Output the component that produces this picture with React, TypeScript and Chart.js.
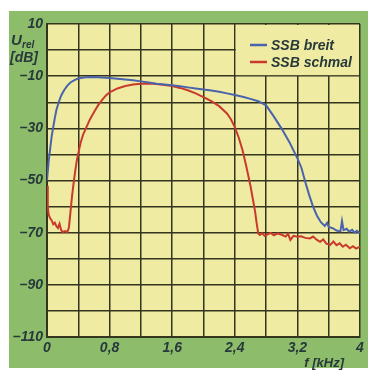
import React, { useEffect, useRef } from "react";
import { Chart, registerables } from "chart.js";
Chart.register(...registerables);

const seriesLabels = ["SSB breit", "SSB schmal"];
const seriesColors = ["#4a63ad", "#c93a2c"];

const breitFreq = [0, 0.02, 0.04, 0.06, 0.08, 0.1, 0.12, 0.15, 0.18, 0.22, 0.26, 0.3, 0.35, 0.4, 0.45, 0.5, 0.6, 0.7, 0.8, 0.9, 1.0, 1.1, 1.2, 1.3, 1.4, 1.5, 1.6, 1.7, 1.8, 1.9, 2.0, 2.1, 2.2, 2.3, 2.4, 2.5, 2.6, 2.7, 2.8, 2.9, 3.0, 3.1, 3.2, 3.25, 3.3, 3.35, 3.4, 3.45, 3.5, 3.55, 3.58, 3.6, 3.65, 3.7, 3.75, 3.77, 3.79, 3.83, 3.86, 3.9, 3.93, 3.96, 4.0];
const breitDb = [-50, -43, -38, -33, -29.5, -26, -23, -20, -17.5, -15.3, -13.6, -12.4, -11.5, -10.9, -10.6, -10.4, -10.3, -10.5, -10.7, -11, -11.3, -11.6, -12, -12.4, -12.9, -13.2, -13.5, -13.9, -14.3, -14.7, -15.1, -15.5, -16, -16.6, -17.2, -17.9, -18.7, -19.6, -21.2, -25.5, -30.2, -35.4, -41.5, -45, -50.5, -55.5, -60, -63.5, -66, -67.4, -66.2, -67.8, -68.3, -69.2, -69.5, -65.5, -69, -68.5, -69.6, -68.9, -70, -69.3, -70.2];

const schmalFreq = [0, 0.01, 0.02, 0.04, 0.06, 0.08, 0.1, 0.12, 0.14, 0.16, 0.18, 0.2, 0.23, 0.26, 0.28, 0.3, 0.32, 0.34, 0.36, 0.38, 0.4, 0.43, 0.46, 0.5, 0.55, 0.6, 0.65, 0.7, 0.75, 0.8, 0.9, 1.0, 1.1, 1.2, 1.3, 1.4, 1.5, 1.6, 1.7, 1.8, 1.9, 2.0, 2.1, 2.2, 2.3, 2.35, 2.4, 2.45, 2.5, 2.55, 2.6, 2.63, 2.66, 2.68, 2.7, 2.72, 2.75, 2.78, 2.82, 2.86, 2.9, 2.95, 3.0, 3.05, 3.08, 3.11, 3.15, 3.2, 3.25, 3.3, 3.36, 3.4, 3.45, 3.49, 3.53, 3.57, 3.62, 3.66, 3.7, 3.74, 3.78, 3.82, 3.87, 3.91, 3.95, 4.0];
const schmalDb = [-52, -60, -63, -64.5, -65.3, -66.8, -66.2, -67.5, -68.2, -66.6, -68.9, -69.8, -69.4, -69.8, -68, -62, -56, -51, -46.5, -42.5, -39.5, -35.5, -32.5, -29.8, -26.5, -23.8, -21.3, -19.3, -17.5, -16.2, -14.7, -13.8, -13.2, -12.9, -12.8, -13, -13.4, -13.8, -14.5, -15.4, -16.6, -18, -19.6, -21.5, -24.3, -26.5, -29.5, -33.5, -38.5, -45, -52, -57, -62, -66.5, -70.3, -70.9, -70.2, -71.2, -70.6, -70.1, -71, -70.3, -70.8, -71.5, -70.4, -72.8, -71.2, -71.6, -71.4, -72, -72.2, -71.5, -72.8, -73.5, -72.6, -74.2, -74.7, -73.4, -74.8, -74.1, -75.4, -74.6, -76, -75.2, -76.1, -75.4];

const yTickLabels = [10, -10, -30, -50, -70, -90, -110];
const xTickLabels = [0, 0.8, 1.6, 2.4, 3.2, 4];

const GREEN = "#8dbc6b";
const YELLOW = "#efeba2";
const GRID = "#35341e";
const TEXT = "#27393a";
const FAMILY = "'Liberation Sans', Arial, sans-serif";

const decorPlugin = {
  id: "decor",
  beforeDraw(chart: any) {
    const { ctx, chartArea } = chart;
    ctx.save();
    ctx.fillStyle = "#ffffff";
    ctx.fillRect(0, 0, chart.width, chart.height);
    ctx.fillStyle = GREEN;
    ctx.fillRect(9, 11, chart.width - 9, chart.height - 13);
    ctx.fillStyle = YELLOW;
    ctx.fillRect(chartArea.left, chartArea.top, chartArea.right - chartArea.left, chartArea.bottom - chartArea.top);
    ctx.restore();
  },
  beforeDatasetsDraw(chart: any) {
    const { ctx, chartArea, scales } = chart;
    const x0 = scales.x.getPixelForValue(2.4) + 1;
    const y1 = scales.y.getPixelForValue(-10) - 1;
    ctx.save();
    ctx.fillStyle = YELLOW;
    ctx.fillRect(x0, chartArea.top + 1, chartArea.right - 1 - x0, y1 - chartArea.top - 1);
    ctx.restore();
  },
  afterDatasetsDraw(chart: any) {
    const { ctx } = chart;
    ctx.save();
    const lx = 250;
    const rows = [45, 62];
    chart.data.datasets.forEach((ds: any, i: number) => {
      ctx.strokeStyle = ds.borderColor;
      ctx.lineWidth = 2.5;
      ctx.beginPath();
      ctx.moveTo(lx, rows[i]);
      ctx.lineTo(lx + 17, rows[i]);
      ctx.stroke();
      ctx.fillStyle = TEXT;
      ctx.font = `italic bold 14px ${FAMILY}`;
      ctx.textAlign = "left";
      ctx.textBaseline = "middle";
      ctx.fillText(ds.label, lx + 21, rows[i] + 1);
    });
    ctx.fillStyle = TEXT;
    ctx.textBaseline = "alphabetic";
    ctx.textAlign = "left";
    ctx.font = `italic bold 15px ${FAMILY}`;
    ctx.fillText("U", 11, 45);
    ctx.font = `italic bold 10px ${FAMILY}`;
    ctx.fillText("rel", 22, 48);
    ctx.font = `italic bold 14px ${FAMILY}`;
    ctx.fillText("[dB]", 10, 62);
    ctx.textAlign = "right";
    ctx.font = `italic bold 13px ${FAMILY}`;
    ctx.fillText("f [kHz]", 344, 367);
    ctx.restore();
  },
};

export default function App() {
  const ref = useRef<HTMLCanvasElement | null>(null);
  useEffect(() => {
    if (!ref.current) return;
    const font = { family: FAMILY, size: 14, style: "italic" as const, weight: "bold" as const };
    const chart = new Chart(ref.current, {
      type: "line",
      data: {
        datasets: [
          {
            label: seriesLabels[0],
            data: breitFreq.map((f, i) => ({ x: f, y: breitDb[i] })),
            borderColor: seriesColors[0],
            borderWidth: 2,
            pointRadius: 0,
            tension: 0,
            fill: false,
          },
          {
            label: seriesLabels[1],
            data: schmalFreq.map((f, i) => ({ x: f, y: schmalDb[i] })),
            borderColor: seriesColors[1],
            borderWidth: 2,
            pointRadius: 0,
            tension: 0,
            fill: false,
          },
        ],
      },
      options: {
        responsive: false,
        animation: false,
        layout: { padding: { left: 9, top: 24, right: 8, bottom: 0 } },
        plugins: { legend: { display: false }, tooltip: { enabled: false } },
        scales: {
          x: {
            type: "linear",
            min: 0,
            max: 4,
            afterFit: (s: any) => {
              s.height = 33;
            },
            ticks: {
              stepSize: 0.4,
              autoSkip: false,
              maxRotation: 0,
              padding: 3,
              color: TEXT,
              font,
              callback: (v: any) => {
                const t = xTickLabels.find((x) => Math.abs(x - Number(v)) < 1e-6);
                return t === undefined ? "" : String(t).replace(".", ",");
              },
            },
            grid: { color: GRID, lineWidth: 1.5, drawTicks: false },
            border: { color: GRID, width: 2 },
          },
          y: {
            type: "linear",
            min: -110,
            max: 10,
            afterFit: (s: any) => {
              s.width = 38;
            },
            ticks: {
              stepSize: 10,
              autoSkip: false,
              padding: 4,
              color: TEXT,
              font,
              callback: (v: any) => {
                const t = yTickLabels.find((y) => Math.abs(y - Number(v)) < 1e-6);
                return t === undefined ? "" : String(t).replace("-", "–");
              },
            },
            grid: { color: GRID, lineWidth: 1.5, drawTicks: false },
            border: { color: GRID, width: 2 },
          },
        },
      },
      plugins: [decorPlugin],
    });
    return () => chart.destroy();
  }, []);
  return (
    <canvas
      ref={ref}
      width={368}
      height={370}
      style={{ position: "fixed", left: 0, top: 0, width: 368, height: 370, display: "block" }}
    />
  );
}
